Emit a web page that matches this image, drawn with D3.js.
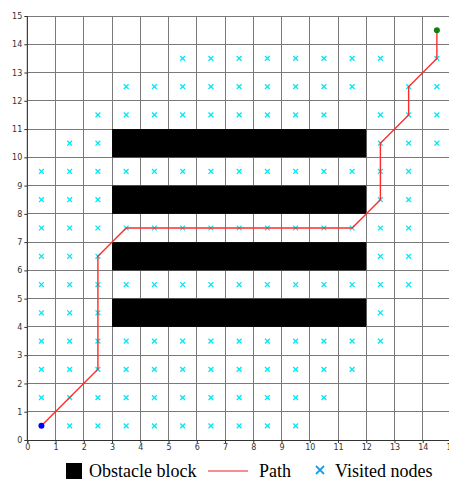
<!DOCTYPE html>
<html>
<head>
<meta charset="utf-8">
<script src="https://cdn.jsdelivr.net/npm/d3@7"></script>
<style>
  html, body { margin: 0; padding: 0; background: #fff; }
  svg { display: block; }
</style>
</head>
<body>
<svg id="chart" width="449" height="481"></svg>
<script>
// Grid extent and tick labels
const xTicks = d3.range(0, 16);
const yTicks = d3.range(0, 16);

// Obstacle blocks: [x0, x1, y0, y1]
const obstacles = [
  [3, 12, 10, 11],
  [3, 12, 8, 9],
  [3, 12, 6, 7],
  [3, 12, 4, 5]
];

// Visited cell centres, grouped by row (y) -> list of x
const visitedRows = [
  [13.5, [5.5, 6.5, 7.5, 8.5, 9.5, 10.5, 11.5, 12.5, 14.5]],
  [12.5, [3.5, 4.5, 5.5, 6.5, 7.5, 8.5, 9.5, 10.5, 11.5, 13.5, 14.5]],
  [11.5, [2.5, 3.5, 4.5, 5.5, 6.5, 7.5, 8.5, 9.5, 10.5, 12.5, 13.5, 14.5]],
  [10.5, [1.5, 2.5, 12.5, 13.5, 14.5]],
  [9.5,  [0.5, 1.5, 2.5, 3.5, 4.5, 5.5, 6.5, 7.5, 8.5, 9.5, 10.5, 11.5, 12.5, 13.5]],
  [8.5,  [0.5, 1.5, 2.5, 12.5, 13.5]],
  [7.5,  [0.5, 1.5, 2.5, 3.5, 4.5, 5.5, 6.5, 7.5, 8.5, 9.5, 10.5, 11.5, 12.5, 13.5]],
  [6.5,  [0.5, 1.5, 2.5, 12.5, 13.5]],
  [5.5,  [0.5, 1.5, 2.5, 3.5, 4.5, 5.5, 6.5, 7.5, 8.5, 9.5, 10.5, 11.5, 12.5, 13.5]],
  [4.5,  [0.5, 1.5, 2.5, 12.5]],
  [3.5,  [0.5, 1.5, 2.5, 3.5, 4.5, 5.5, 6.5, 7.5, 8.5, 9.5, 10.5, 11.5, 12.5]],
  [2.5,  [0.5, 1.5, 2.5, 3.5, 4.5, 5.5, 6.5, 7.5, 8.5, 9.5, 10.5, 11.5]],
  [1.5,  [0.5, 1.5, 2.5, 3.5, 4.5, 5.5, 6.5, 7.5, 8.5, 9.5, 10.5]],
  [0.5,  [1.5, 2.5, 3.5, 4.5, 5.5, 6.5, 7.5, 8.5, 9.5]]
];

// Path from start to goal (cell centres)
const pathX = [0.5, 1.5, 2.5, 2.5, 2.5, 2.5, 2.5, 3.5, 4.5, 5.5, 6.5, 7.5, 8.5, 9.5, 10.5, 11.5, 12.5, 12.5, 12.5, 13.5, 13.5, 14.5, 14.5];
const pathY = [0.5, 1.5, 2.5, 3.5, 4.5, 5.5, 6.5, 7.5, 7.5, 7.5, 7.5, 7.5, 7.5, 7.5, 7.5, 7.5, 8.5, 9.5, 10.5, 11.5, 12.5, 13.5, 14.5];

const start = [0.5, 0.5];
const goal = [14.5, 14.5];

const legendLabels = ["Obstacle block", "Path", "Visited nodes"];

const svg = d3.select("#chart");
const x = d3.scaleLinear().domain([0, 15]).range([27.3, 451]);
const y = d3.scaleLinear().domain([0, 15]).range([440, 16]);

// Grid lines
const grid = svg.append("g");
grid.selectAll("line.v").data(xTicks).join("line")
  .attr("x1", d => x(d)).attr("x2", d => x(d))
  .attr("y1", y(0)).attr("y2", y(15))
  .attr("stroke", "#7a7a7a").attr("stroke-width", 1).attr("shape-rendering", "crispEdges");
grid.selectAll("line.h").data(yTicks).join("line")
  .attr("x1", x(0)).attr("x2", x(15))
  .attr("y1", d => y(d)).attr("y2", d => y(d))
  .attr("stroke", "#7a7a7a").attr("stroke-width", 1).attr("shape-rendering", "crispEdges");

// Obstacles
svg.append("g").selectAll("rect").data(obstacles).join("rect")
  .attr("x", d => x(d[0])).attr("y", d => y(d[3]))
  .attr("width", d => x(d[1]) - x(d[0]))
  .attr("height", d => y(d[2]) - y(d[3]))
  .attr("fill", "#000");

// Visited nodes
const visited = visitedRows.flatMap(([vy, xs]) => xs.map(vx => [vx, vy]));
const s = 2.4;
const vg = svg.append("g").attr("stroke", "#00e8f2").attr("stroke-width", 1.3);
vg.selectAll("path").data(visited).join("path")
  .attr("d", d => {
    const cx = x(d[0]), cy = y(d[1]);
    return `M${cx - s},${cy - s}L${cx + s},${cy + s}M${cx - s},${cy + s}L${cx + s},${cy - s}`;
  });

// Path line
const line = d3.line().x(i => x(pathX[i])).y(i => y(pathY[i]));
svg.append("path")
  .attr("d", line(d3.range(pathX.length)))
  .attr("fill", "none").attr("stroke", "#ff2b2b").attr("stroke-width", 1.4);

// Start and goal
svg.append("circle").attr("cx", x(start[0])).attr("cy", y(start[1])).attr("r", 3)
  .attr("fill", "#0000ff");
svg.append("circle").attr("cx", x(goal[0])).attr("cy", y(goal[1])).attr("r", 3)
  .attr("fill", "#108010");

// Axes
const xAxis = d3.axisBottom(x).tickValues(xTicks).tickSize(3).tickPadding(1);
const yAxis = d3.axisLeft(y).tickValues(yTicks).tickSize(3).tickPadding(2);
const gx = svg.append("g").attr("transform", `translate(0,${y(0)})`).call(xAxis);
const gy = svg.append("g").attr("transform", `translate(${x(0)},0)`).call(yAxis);
[gx, gy].forEach(g => {
  g.select(".domain").attr("stroke", "#333");
  g.selectAll(".tick line").attr("stroke", "#333");
  g.selectAll("text").attr("font-family", "DejaVu Sans, sans-serif").attr("font-size", 8).attr("fill", "#333");
});
gy.select(".domain").remove();
gy.append("line").attr("x1", 0).attr("x2", 0).attr("y1", y(0)).attr("y2", y(15)).attr("stroke", "#333");

// Legend
const lg = svg.append("g").attr("font-family", "Liberation Serif, Times New Roman, serif")
  .attr("font-size", 18).attr("fill", "#000");
lg.append("rect").attr("x", 66).attr("y", 463).attr("width", 16).attr("height", 16).attr("fill", "#000");
lg.append("text").attr("x", 89).attr("y", 477).text(legendLabels[0]);
lg.append("line").attr("x1", 208).attr("x2", 248).attr("y1", 471).attr("y2", 471)
  .attr("stroke", "#f06a6a").attr("stroke-width", 1.6);
lg.append("text").attr("x", 259).attr("y", 477).text(legendLabels[1]);
lg.append("path").attr("d", "M316,466L324,474M316,474L324,466")
  .attr("stroke", "#1a9ee8").attr("stroke-width", 1.8);
lg.append("text").attr("x", 335).attr("y", 477).text(legendLabels[2]);
</script>
</body>
</html>
